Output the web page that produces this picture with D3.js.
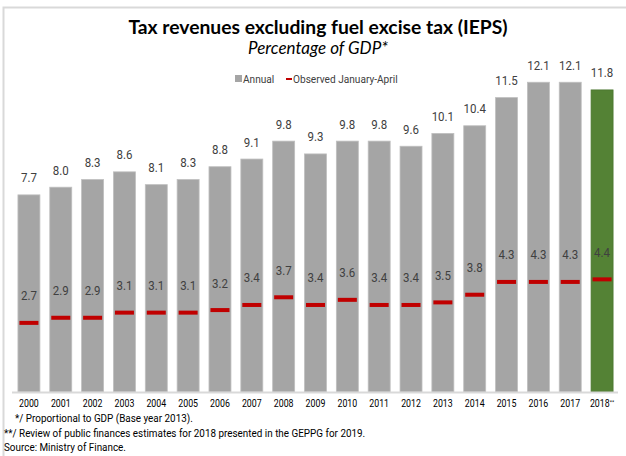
<!DOCTYPE html>
<html><head><meta charset="utf-8">
<script src="https://cdn.jsdelivr.net/npm/d3@7/dist/d3.min.js"></script>
<style>
html,body{margin:0;padding:0;background:#fff;}
svg{display:block;}
</style></head>
<body>
<script>
const years = ["2000","2001","2002","2003","2004","2005","2006","2007","2008","2009","2010","2011","2012","2013","2014","2015","2016","2017","2018**"];
const annual = [7.7,8.0,8.3,8.6,8.1,8.3,8.8,9.1,9.8,9.3,9.8,9.8,9.6,10.1,10.4,11.5,12.1,12.1,11.8];
const janApr = [2.7,2.9,2.9,3.1,3.1,3.1,3.2,3.4,3.7,3.4,3.6,3.4,3.4,3.5,3.8,4.3,4.3,4.3,4.4];
const title = "Tax revenues excluding fuel excise tax (IEPS)";
const subtitle = "Percentage of GDP*";
const legendLabels = ["Annual","Observed January-April"];
const notes = ["*/ Proportional to GDP (Base year 2013).",
  "**/ Review of public finances estimates for 2018 presented in the GEPPG for 2019.",
  "Source: Ministry of Finance."];

const W=626,H=456;
const svg=d3.select("body").append("svg").attr("width",W).attr("height",H);
const small="Roboto,'Noto Sans',sans-serif";
// frame
svg.append("path").attr("d","M3.5,456 V7.5 H626").attr("fill","none").attr("stroke","#d9d9d9").attr("stroke-width",2);

const x=d3.scaleBand().domain(years).range([13,618]).paddingInner(0.31).paddingOuter(0.155);
const y=d3.scaleLinear().domain([0,14]).range([392,33.6]);

svg.append("text").attr("x",318).attr("y",33.5).attr("text-anchor","middle")
  .attr("font-family","Lato,sans-serif").attr("font-weight","bold").attr("font-size",19.3).attr("fill","#000").text(title);
svg.append("text").attr("x",318).attr("y",54).attr("text-anchor","middle")
  .attr("font-family","Lato,sans-serif").attr("font-style","italic").attr("font-size",17).attr("fill","#000").text(subtitle);

// helper: horizontally condensed text
function cond(g,xp,yp,s,k,anchor){
  return g.append("text").attr("transform",`translate(${xp},${yp}) scale(${k},1)`).attr("text-anchor",anchor||"start").text(s);
}

// legend
const lg=svg.append("g").attr("font-family",small).attr("font-size",11.5).attr("fill","#404040");
lg.append("rect").attr("x",235).attr("y",75).attr("width",7).attr("height",7).attr("fill","#a5a5a5");
cond(lg,243,83,legendLabels[0],0.88);
lg.append("rect").attr("x",286).attr("y",78).attr("width",6).attr("height",2).attr("fill","#c00000");
cond(lg,293,83,legendLabels[1],0.88);

// bars
svg.append("g").selectAll("rect").data(years).join("rect")
  .attr("x",d=>x(d)).attr("width",x.bandwidth())
  .attr("y",(d,i)=>y(annual[i])).attr("height",(d,i)=>y(0)-y(annual[i]))
  .attr("fill",(d,i)=>i===years.length-1?"#548235":"#a5a5a5")
  .attr("stroke",(d,i)=>i===years.length-1?"#4a752e":"#bfbfbf").attr("stroke-width",0.8);

// axis line
svg.append("line").attr("x1",12).attr("x2",618).attr("y1",392.5).attr("y2",392.5).attr("stroke","#d9d9d9").attr("stroke-width",2);

// markers
svg.append("g").selectAll("rect").data(years).join("rect")
  .attr("x",d=>x(d)+x.bandwidth()/2-9.5).attr("width",19)
  .attr("y",(d,i)=>y(janApr[i])-2).attr("height",4).attr("fill","#c00000");

// labels
const lab=svg.append("g").attr("font-family",small).attr("font-size",12.5).attr("fill","#404040").attr("text-anchor","middle");
lab.selectAll("text.a").data(years).join("text").attr("class","a")
  .attr("transform",(d,i)=>`translate(${x(d)+x.bandwidth()/2},${y(annual[i])-12.5}) scale(0.92,1)`)
  .text((d,i)=>annual[i].toFixed(1));
lab.selectAll("text.b").data(years).join("text").attr("class","b")
  .attr("transform",(d,i)=>`translate(${x(d)+x.bandwidth()/2},${y(janApr[i])-22.5}) scale(0.92,1)`)
  .text((d,i)=>janApr[i].toFixed(1));

// x axis labels
const xa=svg.append("g").attr("transform","translate(0,392)").call(d3.axisBottom(x).tickSize(0).tickPadding(0));
xa.select(".domain").remove();
xa.selectAll(".tick text").attr("font-family",small).attr("font-size",10).attr("fill","#000")
  .attr("dy",null).attr("y",null).attr("transform","translate(0,15) scale(0.88,1)");
xa.selectAll(".tick text").filter(d=>d==="2018**").text("2018").append("tspan").attr("font-size",6).attr("dy",-3).text("**");

// notes
const nt=svg.append("g").attr("font-family",small).attr("font-size",11.5).attr("fill","#000");
cond(nt,15,422,notes[0],0.86);
cond(nt,4,437,notes[1],0.86);
cond(nt,4,451,notes[2],0.86);
</script>
</body></html>
